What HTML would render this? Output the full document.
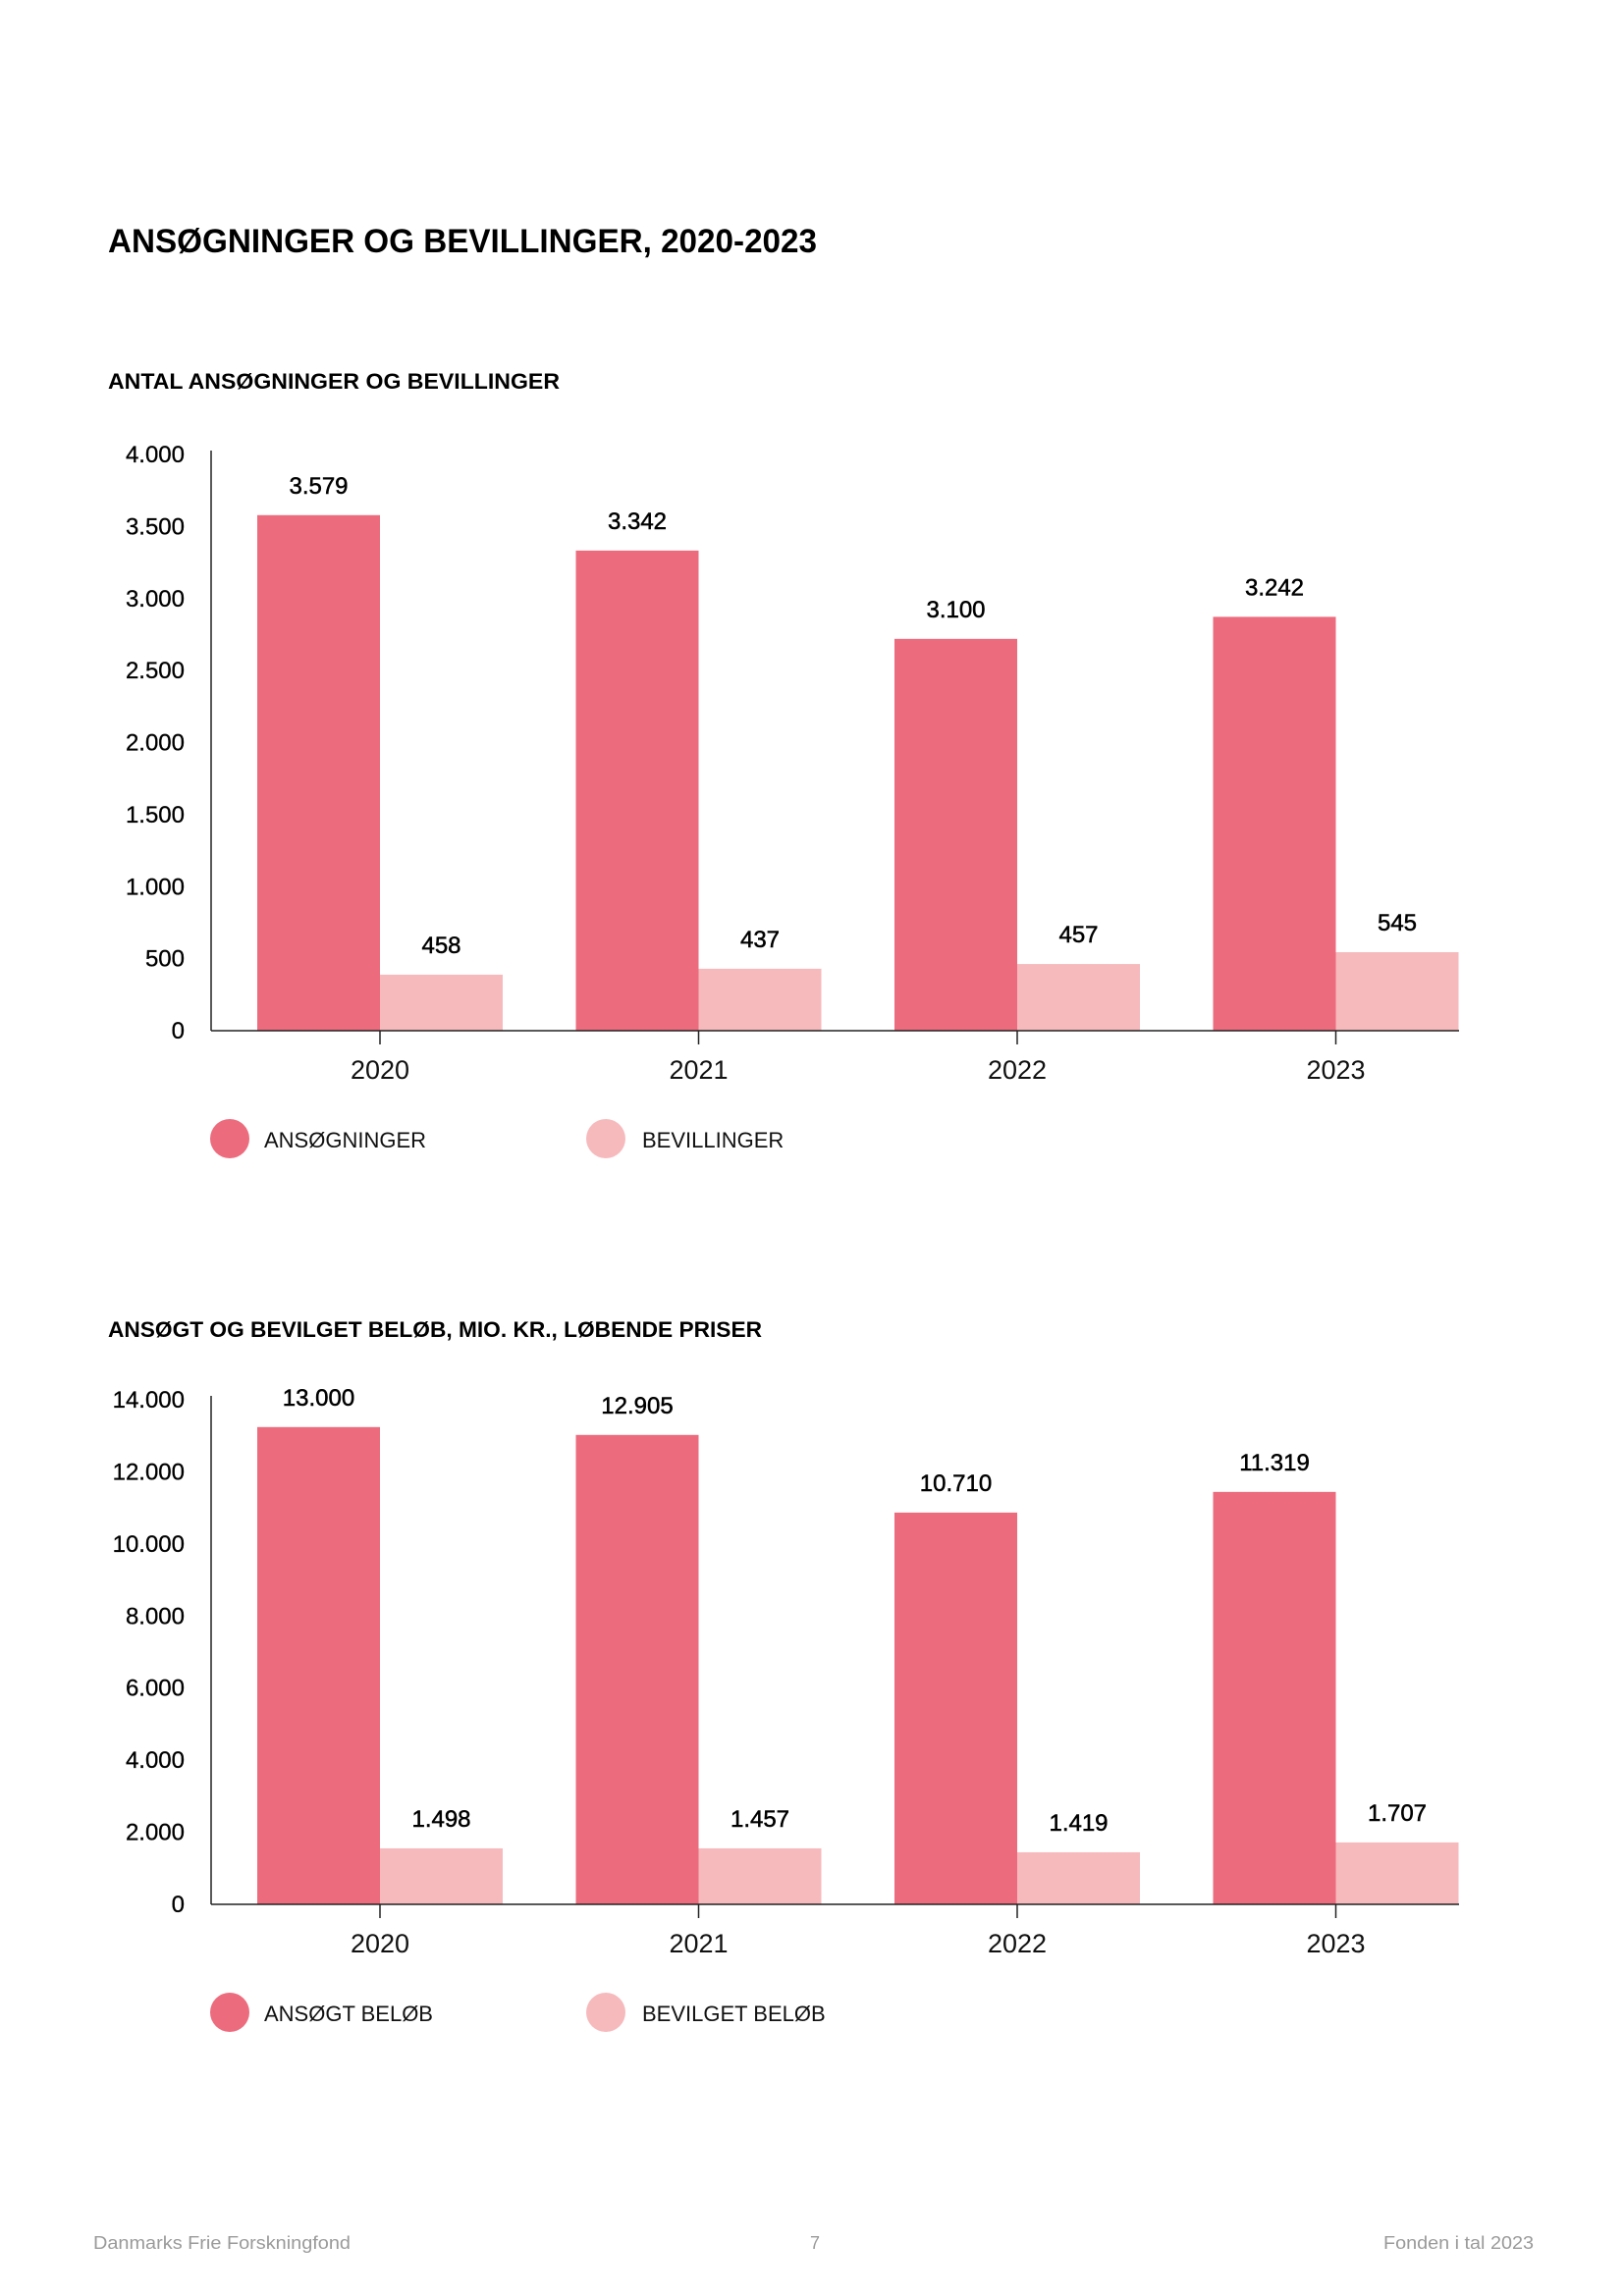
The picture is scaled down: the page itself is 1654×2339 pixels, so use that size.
<!DOCTYPE html>
<html><head><meta charset="utf-8"><style>
html,body{margin:0;padding:0;background:#fff;}
svg{display:block;font-family:"Liberation Sans",sans-serif;}
</style></head><body>
<svg id="page" width="1654" height="2339" viewBox="0 0 1654 2339" xmlns="http://www.w3.org/2000/svg">
<text x="110" y="257" font-size="34" font-weight="bold" textLength="722" lengthAdjust="spacingAndGlyphs">ANSØGNINGER OG BEVILLINGER, 2020-2023</text>
<text x="110" y="396" font-size="22" font-weight="bold" textLength="460" lengthAdjust="spacingAndGlyphs">ANTAL ANSØGNINGER OG BEVILLINGER</text>
<text x="110" y="1362" font-size="22" font-weight="bold" textLength="666" lengthAdjust="spacingAndGlyphs">ANSØGT OG BEVILGET BELØB, MIO. KR., LØBENDE PRISER</text>
<g id="c1"></g>
<g id="c2"></g>
<text x="95" y="2291" font-size="18" fill="#9a9a9a" textLength="262" lengthAdjust="spacingAndGlyphs">Danmarks Frie Forskningfond</text>
<text x="830" y="2291" font-size="18" fill="#9a9a9a" text-anchor="middle">7</text>
<text x="1562" y="2291" font-size="18" fill="#9a9a9a" text-anchor="end" textLength="153" lengthAdjust="spacingAndGlyphs">Fonden i tal 2023</text>
</svg>
<script>
const categories = ["2020", "2021", "2022", "2023"];
// chart 1
const c1Applied = [3579, 3333, 2720, 2873];
const c1Granted = [389, 430, 463, 545];
const c1AppliedLabels = ["3.579", "3.342", "3.100", "3.242"];
const c1GrantedLabels = ["458", "437", "457", "545"];
const c1Ticks = [0, 500, 1000, 1500, 2000, 2500, 3000, 3500, 4000];
const c1TickLabels = ["0", "500", "1.000", "1.500", "2.000", "2.500", "3.000", "3.500", "4.000"];
const c1Legend = ["ANSØGNINGER", "BEVILLINGER"];
// chart 2
const c2Applied = [13243, 13025, 10870, 11444];
const c2Granted = [1553, 1553, 1444, 1717];
const c2AppliedLabels = ["13.000", "12.905", "10.710", "11.319"];
const c2GrantedLabels = ["1.498", "1.457", "1.419", "1.707"];
const c2Ticks = [0, 2000, 4000, 6000, 8000, 10000, 12000, 14000];
const c2TickLabels = ["0", "2.000", "4.000", "6.000", "8.000", "10.000", "12.000", "14.000"];
const c2Legend = ["ANSØGT BELØB", "BEVILGET BELØB"];

const NS = "http://www.w3.org/2000/svg";
function mk(parent, tag, attrs, txt) {
  const e = document.createElementNS(NS, tag);
  for (const k in attrs) e.setAttribute(k, attrs[k]);
  if (txt !== undefined) e.textContent = txt;
  parent.appendChild(e);
  return e;
}
const DARK = "#ec6b7d", LIGHT = "#f6babd";

function drawChart(g, applied, granted, aLabels, gLabels, ticks, tickLabels, legend, base, top, maxV, legendY) {
  const y = v => base - (v / maxV) * (base - top);
  const x0 = 215, x1 = 1486, step = 324.5, first = 387, bw = 125;
  const xc = i => first + i * step;
  ticks.forEach((t, i) => {
    const tl = mk(g, "text", {x: 188, y: y(t) + 8, "font-size": 24, "text-anchor": "end", fill: "#000", stroke: "#000", "stroke-width": 0.3}, tickLabels[i]);
    
    
  });
  categories.forEach((c, i) => {
    const cx = xc(i);
    const b1 = mk(g, "rect", {x: cx - bw, y: y(applied[i]), width: bw, height: base - y(applied[i]), fill: DARK});
    
    
    const b2 = mk(g, "rect", {x: cx, y: y(granted[i]), width: bw, height: base - y(granted[i]), fill: LIGHT});
    
    
    const l1 = mk(g, "text", {x: cx - bw / 2, y: y(applied[i]) - 22, "font-size": 24, "text-anchor": "middle", fill: "#000", stroke: "#000", "stroke-width": 0.5}, aLabels[i]);
    
    
    const l2 = mk(g, "text", {x: cx + bw / 2, y: y(granted[i]) - 22, "font-size": 24, "text-anchor": "middle", fill: "#000", stroke: "#000", "stroke-width": 0.5}, gLabels[i]);
    
    
    const tk = mk(g, "line", {x1: cx, x2: cx, y1: base, y2: base + 14, stroke: "#222", "stroke-width": 1.5});
    
    
    const xl = mk(g, "text", {x: cx, y: base + 49, "font-size": 27, "text-anchor": "middle", fill: "#111"}, c);
    
    
  });
  const ya = mk(g, "line", {x1: x0, x2: x0, y1: top - 4, y2: base, stroke: "#222", "stroke-width": 1.5});
  
  
  const xa = mk(g, "line", {x1: x0, x2: x1, y1: base, y2: base, stroke: "#222", "stroke-width": 1.5});
  
  
  [[234, 269, DARK], [617, 654, LIGHT]].forEach((p, i) => {
    const lg = mk(g, "g", {});
    
    
    mk(lg, "ellipse", {cx: p[0], cy: legendY, rx: 20, ry: 20, fill: p[2]});
    mk(lg, "text", {x: p[1], y: legendY + 9, "font-size": 22, fill: "#111"}, legend[i]);
  });
}
drawChart(document.getElementById("c1"), c1Applied, c1Granted, c1AppliedLabels, c1GrantedLabels, c1Ticks, c1TickLabels, c1Legend, 1050, 463, 4000, 1160);
drawChart(document.getElementById("c2"), c2Applied, c2Granted, c2AppliedLabels, c2GrantedLabels, c2Ticks, c2TickLabels, c2Legend, 1940, 1426, 14000, 2050);
</script>
</body></html>
